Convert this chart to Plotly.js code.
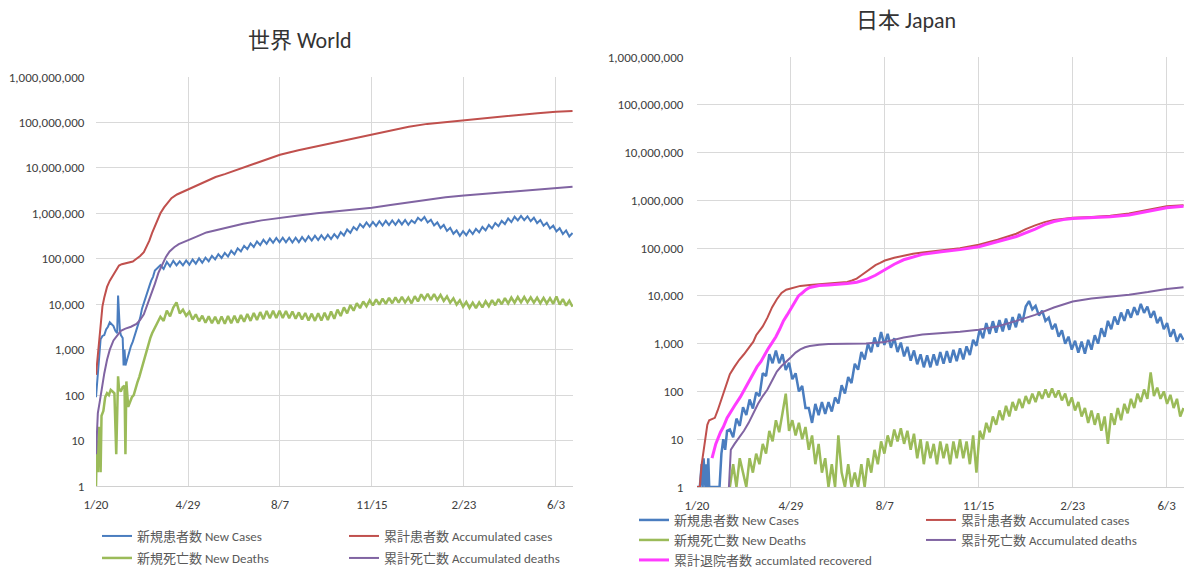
<!DOCTYPE html>
<html>
<head>
<meta charset="utf-8">
<script src="https://cdn.plot.ly/plotly-3.0.1.min.js"></script>
<style>html,body{margin:0;padding:0;background:#fff;overflow:hidden}#chart{width:1184px;height:569px}</style>
</head>
<body>
<div id="chart"></div>
<script>
// ---------------- DATA (days since 2020-01-20) ----------------
const xTickDates = ['2020-01-20','2020-04-29','2020-08-07','2020-11-15','2021-02-23','2021-06-03'];
const xTickText = ['1/20','4/29','8/7','11/15','2/23','6/3'];
const yTickVals = [1,10,100,1000,10000,100000,1000000,10000000,100000000,1000000000];
const yTickText = ['1','10','100','1,000','10,000','100,000','1,000,000','10,000,000','100,000,000','1,000,000,000'];

const seriesNames = ['新規患者数 New Cases','累計患者数 Accumulated cases','新規死亡数 New Deaths','累計死亡数 Accumulated deaths','累計退院者数 accumlated recovered'];

// World – new cases
const wNewCasesEarlyDays = [0,1,3,5,7,9,11,13,15,17,19,21,23,24,25,26,27,29,30,31,32,34,36,38,40,42,44,46,48,50,52,54,56,58,60,62,64,66,68];
const wNewCasesEarlyVals = [90,160,700,1700,2000,2100,2800,3200,4000,3700,3300,2600,2300,15500,5000,2600,2100,1800,450,1000,450,650,900,1200,1500,2000,2500,3500,5000,8000,10500,14000,17000,25000,33000,40000,55000,60000,65000];
const wNewCasesStart = 70, halfWeek = 3.5;
const wNewCasesVals = [72000,60000,85000,68000,90000,72000,88000,72000,92000,74000,
96000,78000,102000,82000,106000,88000,116000,97000,126000,104000,
135000,112000,150000,125000,170000,145000,193000,163000,218000,182000,
240000,200000,262000,213000,278000,225000,288000,230000,290000,230000,
290000,228000,290000,232000,300000,243000,312000,252000,322000,258000,
330000,264000,338000,272000,348000,288000,385000,325000,440000,372000,
500000,430000,580000,490000,630000,510000,650000,525000,670000,540000,
685000,550000,695000,560000,710000,570000,715000,560000,700000,610000,
800000,690000,830000,630000,720000,540000,630000,475000,555000,410000,
480000,355000,420000,320000,405000,330000,430000,350000,455000,380000,
500000,420000,555000,465000,610000,520000,680000,580000,770000,640000,
840000,700000,880000,710000,860000,670000,800000,610000,710000,535000,
620000,465000,535000,400000,470000,350000,420000,310000,370000];

// World – accumulated cases
const wCumCasesDays = [0,2,3,5,7,9,12,15,18,21,23,25,28,32,36,40,44,48,52,55,58,61,64,67,70,74,78,82,88,94,100,110,120,130,140,160,180,200,220,240,260,280,300,320,340,360,380,400,420,440,460,480,500,518];
const wCumCasesVals = [280,800,1500,4500,9000,14000,24000,33000,42000,52000,62000,71000,76000,80000,83000,87000,100000,115000,140000,180000,250000,370000,520000,740000,1000000,1350000,1750000,2150000,2600000,2950000,3300000,4200000,5100000,6300000,7300000,10200000,14500000,19500000,24500000,30000000,36000000,44000000,54000000,66000000,80000000,93000000,102000000,112000000,120000000,132000000,145000000,160000000,171000000,178000000];

// World – new deaths
const wNewDeathsEarlyDays = [0,1,2,3,4,5,6,8,10,12,14,16,18,20,22,23,24,25,27,29,31,32,33,35,37,39,41,43,45,47,49,51,53,55,57,59,61,63,65,67];
const wNewDeathsEarlyVals = [1,10,2,20,15,2,35,45,90,110,100,130,120,110,5,130,260,140,120,150,160,5,200,55,70,90,100,150,190,250,350,500,700,1000,1300,1800,2300,2800,3300,3900];
const wNewDeathsStart = 70;
const wNewDeathsVals = [5300,4300,7200,5400,8400,11000,6300,7600,5600,6800,
4600,6000,4200,5600,3900,5400,3800,5300,3700,5400,
3700,5500,3800,5600,3900,5800,4100,6100,4300,6400,
4500,6700,4700,7100,4900,7200,5000,7200,5000,7100,
4900,6900,4800,6600,4600,6400,4400,6200,4300,6300,
4400,6500,4500,6900,4800,7600,5500,8500,6300,9600,
7200,10500,8200,11500,9000,12200,9400,12800,9800,13300,
10200,13800,10500,14200,10800,14500,11000,14000,10500,15000,
11500,16500,12800,17000,12500,16800,12400,16000,11800,14800,
10800,13500,9800,12200,8800,11200,8300,10800,8200,11000,
8500,11600,9000,12300,9500,13000,10000,13600,10400,14000,
10800,14400,11000,14500,11000,14200,10800,14000,10500,13800,
10400,13600,10200,14800,9800,13000,9300,12000,8800];

// World – accumulated deaths
const wCumDeathsDays = [0,2,4,6,9,12,15,19,23,27,32,38,44,48,52,56,60,64,68,72,76,80,85,90,100,110,120,140,160,180,200,220,240,260,280,300,320,340,360,380,400,420,440,460,480,500,518];
const wCumDeathsVals = [5,40,70,130,300,600,1000,1600,2100,2600,2900,3200,3700,4500,6000,10000,16000,28000,50000,75000,110000,145000,180000,210000,260000,310000,380000,480000,590000,700000,800000,900000,1000000,1100000,1200000,1320000,1530000,1760000,2000000,2250000,2480000,2660000,2860000,3100000,3360000,3620000,3850000];

// Japan – new cases
const jNewCasesEarlyDays = [0,3,5,6,7,8,9,10,11,12,13,14,16,18,20,22,24,26,28,30,32];
const jNewCasesEarlyVals = [1,1,3,1,4,2,1,3,1,4,1,1,1,1,1,1,1,5,10,6,15];
const jNewCasesStart = 35;
const jNewCasesVals = [16,11,27,19,47,32,68,44,95,80,
240,210,600,390,720,390,600,280,400,180,
240,100,130,45,45,22,55,32,60,34,
60,38,75,56,135,90,200,150,380,285,
670,465,1000,660,1350,860,1750,940,1600,820,
1300,670,1050,540,860,440,720,370,600,320,
570,320,600,350,670,380,700,400,740,430,
800,470,880,580,1200,900,2000,1300,2700,1600,
2950,1700,3100,1800,3350,1950,3600,2200,4200,2800,
6000,7800,5200,6200,3900,4900,3000,3500,2000,2600,
1400,1900,1000,1400,750,1150,650,1100,620,1200,
750,1500,1000,2100,1400,3000,2000,3700,2500,4500,
3000,5200,3500,5800,4000,6800,4400,6000,3500,4800,
2700,3600,2000,2700,1400,2000,1100,1600,1200];

// Japan – accumulated cases
const jCumCasesDays = [0,3,5,7,9,11,13,16,19,22,25,28,31,35,40,45,50,55,60,63,66,70,75,80,85,90,95,100,105,110,120,130,140,150,160,165,170,175,180,185,190,195,200,210,220,230,240,260,280,300,320,340,350,360,370,380,390,400,420,440,460,480,500,518];
const jCumCasesVals = [1,1,3,6,12,20,25,26,28,40,60,95,145,230,330,460,600,800,1100,1500,1800,2300,3500,5800,8500,11500,13500,14500,15500,16200,16800,17300,17800,18500,19500,21000,23000,27000,32000,38000,44000,49000,55000,63000,70000,76000,81000,89000,99000,118000,150000,200000,250000,300000,350000,390000,415000,430000,450000,475000,530000,630000,750000,785000];

// Japan – new deaths
const jNewDeathsStart = 35;
const jNewDeathsVals = [1,3,1,4,2,1,4,2,5,3,
8,5,15,9,25,14,35,90,15,25,
12,22,10,18,6,12,3,8,2,4,
1,3,1,12,2,1,3,1,2,1,
3,1,4,2,6,3,9,5,12,7,
16,9,17,8,15,6,13,4,10,3,
9,4,8,3,9,4,8,3,9,4,
10,4,9,3,12,2,15,10,22,14,
30,20,40,25,50,30,60,40,70,45,
80,55,90,60,100,70,110,75,115,75,
105,65,90,50,75,40,60,30,45,22,
40,20,35,15,30,8,35,20,45,25,
55,35,70,45,90,60,110,70,250,80,
120,70,100,55,85,45,70,30,45];

// Japan – accumulated deaths
const jCumDeathsDays = [34,35,36,40,45,50,55,60,65,70,75,80,85,90,95,100,105,110,115,120,130,140,160,180,200,220,240,260,280,300,320,340,360,380,400,420,440,460,480,500,518];
const jCumDeathsVals = [1,4,6,8,11,15,22,35,55,80,110,170,260,340,430,520,650,760,840,890,950,980,1000,1010,1080,1350,1550,1650,1780,1950,2300,3000,4000,5700,7600,8800,9500,10600,12000,14000,15200];

// Japan – accumulated recovered
const jRecoveredDays = [16,20,25,28,32,36,40,46,50,55,60,64,68,72,76,80,84,88,92,96,100,104,108,112,116,120,125,130,140,150,160,170,180,190,200,210,220,230,240,260,280,300,320,340,360,370,380,390,400,420,440,460,480,500,518];
const jRecoveredVals = [4,8,14,18,28,38,50,76,105,160,250,330,420,600,800,1050,1400,2000,3000,4000,5500,7500,10000,11500,13500,15000,16000,16500,17000,17500,18100,19300,22000,27000,35000,46000,57000,66000,74000,84000,93000,107000,135000,175000,250000,310000,360000,395000,415000,435000,455000,495000,580000,700000,750000];

// ---------------- HELPERS ----------------
const W = 1184, H = 569;
const FONT = "Calibri, Carlito, Lato, 'Noto Sans CJK JP', sans-serif";
const COLORS = {blue:'#4a7dbf', red:'#c0504d', green:'#9bbb59', purple:'#8064a2', magenta:'#ff3cff'};
function dayToDate(d){
  const t = Date.UTC(2020,0,20) + Math.round(d*86400000);
  return new Date(t).toISOString().slice(0,19).replace('T',' ');
}
function regularDays(start, n){ const a=[]; for(let i=0;i<n;i++) a.push(start + i*halfWeek); return a; }
function dates(days){ return days.map(dayToDate); }

function line(days, vals, name, color, width, xa, ya, legendId){
  return {type:'scatter', mode:'lines', x:dates(days), y:vals, name:name,
    line:{color:color, width:width}, xaxis:xa, yaxis:ya, legend:legendId, hoverinfo:'skip'};
}
function leg(lineStartPx, yPx){
  return {x:(lineStartPx-5)/W, y:1-yPx/H, xref:'paper', yref:'paper', xanchor:'left', yanchor:'middle',
    bgcolor:'rgba(0,0,0,0)', borderwidth:0, itemwidth:30, orientation:'v',
    font:{family:FONT, size:13, color:'#595959'}};
}

const traces = [
  line(wNewCasesEarlyDays.concat(regularDays(wNewCasesStart, wNewCasesVals.length)), wNewCasesEarlyVals.concat(wNewCasesVals), seriesNames[0], COLORS.blue, 2, 'x', 'y', 'legend'),
  line(wCumCasesDays, wCumCasesVals, seriesNames[1], COLORS.red, 2, 'x', 'y', 'legend2'),
  line(wNewDeathsEarlyDays.concat(regularDays(wNewDeathsStart, wNewDeathsVals.length)), wNewDeathsEarlyVals.concat(wNewDeathsVals), seriesNames[2], COLORS.green, 2.5, 'x', 'y', 'legend3'),
  line(wCumDeathsDays, wCumDeathsVals, seriesNames[3], COLORS.purple, 2, 'x', 'y', 'legend4'),

  line(jNewCasesEarlyDays.concat(regularDays(jNewCasesStart, jNewCasesVals.length)), jNewCasesEarlyVals.concat(jNewCasesVals), seriesNames[0], COLORS.blue, 2.5, 'x2', 'y2', 'legend5'),
  line(jCumCasesDays, jCumCasesVals, seriesNames[1], COLORS.red, 2, 'x2', 'y2', 'legend6'),
  line(regularDays(jNewDeathsStart, jNewDeathsVals.length), jNewDeathsVals, seriesNames[2], COLORS.green, 2.5, 'x2', 'y2', 'legend7'),
  line(jCumDeathsDays, jCumDeathsVals, seriesNames[3], COLORS.purple, 2, 'x2', 'y2', 'legend8'),
  line(jRecoveredDays, jRecoveredVals, seriesNames[4], COLORS.magenta, 3, 'x2', 'y2', 'legend9')
];

function xAxis(domain, anchor){
  return {type:'date', domain:domain, anchor:anchor, range:[dayToDate(0), dayToDate(518.5)],
    tickmode:'array', tickvals:xTickDates, ticktext:xTickText,
    showgrid:true, gridcolor:'#d9d9d9', gridwidth:1, zeroline:false,
    showline:true, linecolor:'#d0d0d0', linewidth:1,
    ticks:'outside', ticklen:6, tickcolor:'rgba(0,0,0,0)',
    tickfont:{family:FONT, size:13, color:'#404040'}, fixedrange:true};
}
function yAxis(domain, anchor, tl){
  return {type:'log', domain:domain, anchor:anchor, range:[0,9],
    tickmode:'array', tickvals:yTickVals, ticktext:yTickText,
    showgrid:true, gridcolor:'#d9d9d9', gridwidth:1, zeroline:false, showline:false,
    ticks:'outside', ticklen:tl, tickcolor:'rgba(0,0,0,0)',
    tickfont:{family:FONT, size:13, color:'#404040'}, fixedrange:true};
}

const layout = {
  width:W, height:H, margin:{l:0,r:0,t:0,b:0,autoexpand:false},
  paper_bgcolor:'#ffffff', plot_bgcolor:'#ffffff',
  font:{family:FONT},
  showlegend:true,
  xaxis: xAxis([96/W, 573/W], 'y'),
  yaxis: yAxis([1-486/H, 1-77/H], 'x', 8),
  xaxis2: xAxis([697/W, 1], 'y2'),
  yaxis2: yAxis([1-487/H, 1-57/H], 'x2', 10),
  legend: leg(102, 536),
  legend2: leg(349, 536),
  legend3: leg(102, 558),
  legend4: leg(349, 558),
  legend5: leg(639, 520),
  legend6: leg(926, 520),
  legend7: leg(639, 540),
  legend8: leg(926, 540),
  legend9: leg(639, 560),
  annotations:[
    {text:'世界 World', x:300/W, y:1-40/H, xref:'paper', yref:'paper', showarrow:false, xanchor:'center', yanchor:'middle', font:{family:FONT, size:22, color:'#333333'}},
    {text:'日本 Japan', x:906/W, y:1-21/H, xref:'paper', yref:'paper', showarrow:false, xanchor:'center', yanchor:'middle', font:{family:FONT, size:22, color:'#333333'}}
  ]
};

Plotly.newPlot('chart', traces, layout, {staticPlot:true, displayModeBar:false});
</script>
</body>
</html>
